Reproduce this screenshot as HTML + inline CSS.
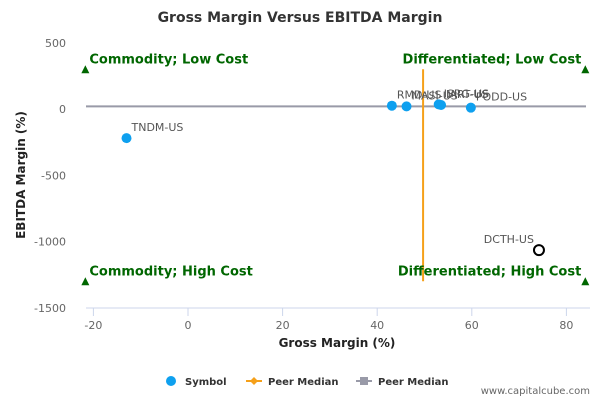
<!DOCTYPE html>
<html><head><meta charset="utf-8"><style>
body{margin:0;background:#fff;font-family:"Liberation Sans","DejaVu Sans",sans-serif}
svg text{font-family:"DejaVu Sans","Liberation Sans",sans-serif}
</style></head><body>
<svg id="c" width="600" height="400" xmlns="http://www.w3.org/2000/svg">
<text x="300" y="22" text-anchor="middle" font-size="14" font-weight="bold" fill="#333">Gross Margin Versus EBITDA Margin</text>
<g id="grid"></g><g id="marks"></g>
<text x="337" y="347" text-anchor="middle" font-size="12" font-weight="bold" fill="#222">Gross Margin (%)</text>
<text transform="translate(25,175) rotate(-90)" text-anchor="middle" font-size="12" font-weight="bold" fill="#222">EBITDA Margin (%)</text>
<g font-size="10" font-weight="bold" fill="#333">
<g><circle cx="171" cy="381" r="5" fill="#0ea0ef"/><text x="185" y="385">Symbol</text></g>
<g><line x1="246" y1="381" x2="262" y2="381" stroke="#f5a01a" stroke-width="2"/><path d="M254 377 L258 381 L254 385 L250 381Z" fill="#f5a01a"/><text x="268" y="385">Peer Median</text></g>
<g><line x1="356" y1="381" x2="372" y2="381" stroke="#999aa8" stroke-width="2"/><rect x="360" y="377" width="8" height="8" fill="#999aa8"/><text x="378" y="385">Peer Median</text></g>
</g>
<text x="590" y="394" text-anchor="end" font-size="10" fill="#666">www.capitalcube.com</text>
</svg>
<script>
const xTicks=[-20,0,20,40,60,80];
const yTicks=[500,0,-500,-1000,-1500];
const symbols=["TNDM-US","RMD-US","MASI-US","ISRG-US","IART-US","PODD-US","DCTH-US"];
const grossMargin=[-13,43.1,46.2,53,53.5,59.8,74.2];
const ebitdaMargin=[-220,25,20,35,30,10,-1065];
const peerMedianX=[49.7];
const peerMedianY=[20];
const quadrantLabels=["Commodity; Low Cost","Differentiated; Low Cost","Commodity; High Cost","Differentiated; High Cost"];
const X0=86,X1=590,Y0=35,Y1=308;
function sx(v){return 188+v*4.73;}
function sy(v){return 109-v*0.1325;}
const NS="http://www.w3.org/2000/svg";
const grid=document.getElementById('grid'),marks=document.getElementById('marks');
function el(t,a,p,txt){const e=document.createElementNS(NS,t);for(const k in a)e.setAttribute(k,a[k]);if(txt!==undefined)e.textContent=txt;p.appendChild(e);return e;}
const ax=el('line',{x1:X0,x2:X1,y1:Y1,y2:Y1,stroke:'#ccd6eb'},grid);


xTicks.forEach(t=>{
 const l=el('line',{x1:sx(t),x2:sx(t),y1:Y1,y2:Y1+8,stroke:'#ccd6eb'},grid);
 
 
 const tx=el('text',{x:sx(t),y:Y1+21,'text-anchor':'middle','font-size':'11',fill:'#666'},grid,String(t));
 
 
});
yTicks.forEach(t=>{
 const tx=el('text',{x:66,y:sy(t)+4,'text-anchor':'end','font-size':'11',fill:'#666'},grid,String(t));
 
 
});
const hl=el('line',{x1:X0,x2:586,y1:sy(peerMedianY[0]),y2:sy(peerMedianY[0]),stroke:'#999aa8','stroke-width':2},marks);


const vl=el('line',{x1:sx(peerMedianX[0]),x2:sx(peerMedianX[0]),y1:sy(300),y2:sy(-1300),stroke:'#f5a01a','stroke-width':2},marks);


const qpos=[[-21.7,300,'start'],[84,300,'end'],[-21.7,-1300,'start'],[84,-1300,'end']];
quadrantLabels.forEach((q,i)=>{
 const [gx,gy,anc]=qpos[i];const x=sx(gx),y=sy(gy);
 const tri=el('path',{d:`M${x-4} ${y+4} L${x+4} ${y+4} L${x} ${y-4}Z`,fill:'#006600'},marks);
 
 
 const tx=el('text',{x:anc==='start'?x+4:x-4,y:y-6,'text-anchor':anc,'font-size':'13','font-weight':'bold',fill:'#006600'},marks,q);
 
 
});
symbols.forEach((s,i)=>{
 const x=sx(grossMargin[i]),y=sy(ebitdaMargin[i]);const last=s==='DCTH-US';
 const c=el('circle',{cx:x,cy:y,r:5,fill:last?'#fff':'#0ea0ef',stroke:last?'#000':'none','stroke-width':2},marks);
 
 
 const tx=el('text',{x:last?x-5:x+5,y:y-7,'text-anchor':last?'end':'start','font-size':'11',fill:'#555'},marks,s);
 
 
});
</script>
</body></html>
